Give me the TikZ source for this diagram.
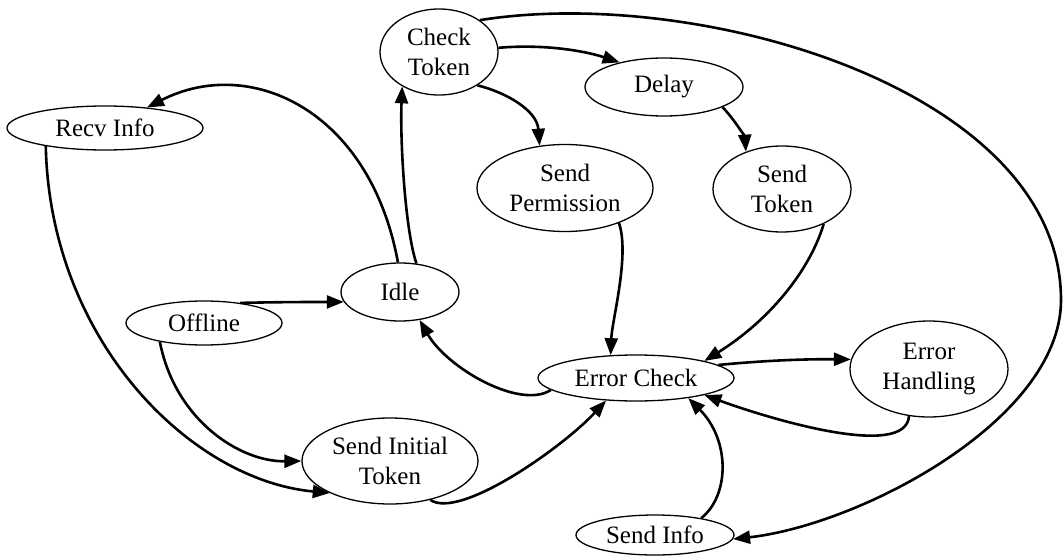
\documentclass[tikz,border=0pt]{standalone}
\usepackage{fontspec}
\setmainfont{Liberation Serif}
\usetikzlibrary{shapes.geometric,arrows.meta}
\tikzset{
  st/.style={ellipse,draw,line width=1.3pt,inner sep=0pt,align=center,
    font=\fontsize{25}{30}\selectfont},
  tr/.style={line width=2.6pt,-{Triangle[length=17pt,width=13pt]}},
}
\begin{document}
\begin{tikzpicture}[x=1pt,y=-1pt]
\useasboundingbox (0,0) rectangle (1063,556);
\node[st,minimum width=118pt,minimum height=86pt] (ct) at (439,52) {Check\\Token};
\node[st,minimum width=158pt,minimum height=58pt] (dl) at (664,87) {Delay};
\node[st,minimum width=196pt,minimum height=44pt] (ri) at (105,128) {Recv Info};
\node[st,minimum width=176pt,minimum height=87pt] (sp) at (565,188) {Send\\Permission};
\node[st,minimum width=138pt,minimum height=86pt] (stk) at (782,189) {Send\\Token};
\node[st,minimum width=118pt,minimum height=58pt] (idle) at (400,292) {Idle};
\node[st,minimum width=156pt,minimum height=44pt] (off) at (204,323) {Offline};
\node[st,minimum width=196pt,minimum height=46pt] (ec) at (636,378) {Error Check};
\node[st,minimum width=158pt,minimum height=96pt] (eh) at (929,369) {Error\\Handling};
\node[st,minimum width=176pt,minimum height=86pt] (sit) at (390,461) {Send Initial\\Token};
\node[st,minimum width=158pt,minimum height=40pt] (si) at (655,535) {Send Info};
\coordinate (rp) at (1061,300);

\draw[tr] (ct.4) .. controls (540,44) and (582,50) .. (dl.151);
\draw[tr] (ct.-41) .. controls (505,92) and (537,110) .. (sp.121);
\draw[tr] (ct.38) .. controls (700,-15) and (1061,90) .. (rp)
  .. controls (1061,420) and (860,525) .. (si.-3);
\draw[tr] (dl.-19) .. controls (735,120) and (745,138) .. (stk.134);
\draw[tr] (sp.-33) .. controls (630,255) and (612,320) .. (ec.138);
\draw[tr] (stk.-40) .. controls (810,270) and (770,320) .. (ec.14);
\draw[tr] (idle.60) .. controls (405,230) and (400,140) .. (ct.-137);
\draw[tr] (idle.94) .. controls (370,110) and (250,55) .. (ri.26);
\draw[tr] (ri.-163) .. controls (50,340) and (190,480) .. (sit.-152);
\draw[tr] (off.29) .. controls (280,302) and (310,302) .. (idle.-170);
\draw[tr] (off.-157) .. controls (175,420) and (240,462) .. (sit.180);
\draw[tr] (ec.-172) .. controls (520,410) and (447,368) .. (idle.-55);
\draw[tr] (ec.9) .. controls (770,360) and (810,359) .. (eh.173);
\draw[tr] (eh.-113) .. controls (906,460) and (770,419) .. (ec.-14);
\draw[tr] (si.20) .. controls (730,495) and (730,440) .. (ec.-21);
\draw[tr] (sit.-44) .. controls (460,520) and (563,447) .. (ec.-143);
\end{tikzpicture}
\end{document}
